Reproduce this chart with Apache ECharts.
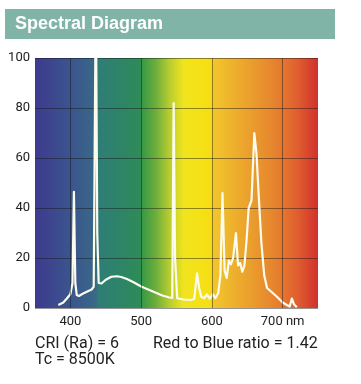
<!DOCTYPE html>
<html>
<head>
<meta charset="utf-8">
<script src="https://cdn.jsdelivr.net/npm/echarts@6/dist/echarts.min.js"></script>
<style>
html,body{margin:0;padding:0;background:#fff;}
#chart{width:361px;height:384px;}
</style>
</head>
<body>
<div id="chart"></div>
<script>
var wavelengths = [383, 390, 395, 400, 403, 405, 407, 409, 412, 418, 424, 430, 433, 436, 438, 440, 444, 450, 458, 466, 472, 480, 490, 500, 510, 520, 530, 540, 544, 546, 548, 551, 560, 570, 575, 579, 582, 585, 589, 593, 597, 601, 605, 609, 612, 615, 618, 621, 624, 627, 630, 634, 637, 640, 643, 646, 649, 652, 656, 660, 663, 666, 670, 674, 678, 684, 692, 700, 706, 710, 713, 716, 720];
var intensity = [1.2, 2.2, 3.8, 5.5, 10, 46.5, 10, 5.2, 4.8, 5.8, 6.6, 7.4, 8.5, 130, 30, 10, 9.8, 11.3, 12.5, 12.7, 12.4, 11.6, 10.2, 8.6, 7.4, 6.2, 5.0, 4.2, 4.0, 82, 20, 3.9, 3.4, 3.2, 3.6, 13.9, 8, 4.5, 3.9, 5.4, 3.8, 5.5, 4.0, 6.0, 13, 46, 15, 12, 19, 17.5, 20, 30, 17, 18, 14.5, 17, 27, 40, 43, 70, 62, 46, 26, 13, 8, 6.5, 4.5, 2.2, 1.2, 0.6, 3.8, 1.5, 0.3];
var xTicks = [400, 500, 600, 700];
var yTicks = [0, 20, 40, 60, 80, 100];
var title = 'Spectral Diagram';
var notes = ['CRI (Ra) = 6', 'Red to Blue ratio = 1.42', 'Tc = 8500K'];

var xMin = 350, xMax = 750;
var bandNm = [350, 380, 420, 436, 440, 470, 499, 502, 520, 540, 560, 590, 599, 602, 650, 690, 720, 750];
var bandColors = ['#3d3a8f', '#3c4a8e', '#3a5f8b', '#386a86', '#2f7d76', '#2d8468', '#2e8c56', '#3a9a46', '#6aad3c', '#b8cc30', '#f0e41e', '#f6e014', '#f6dc16', '#f2c62c', '#eba22c', '#e6822e', '#e0602f', '#d1302c'];

var stops = bandNm.map(function (nm, i) {
  return { offset: (nm - xMin) / (xMax - xMin), color: bandColors[i] };
});

var data = wavelengths.map(function (w, i) { return [w, intensity[i]]; });

var chart = echarts.init(document.getElementById('chart'));
chart.setOption({
  animation: false,
  grid: {
    left: 35, right: 43, top: 58, bottom: 76,
    show: true,
    borderWidth: 0,
    backgroundColor: { type: 'linear', x: 0, y: 0, x2: 1, y2: 0, colorStops: stops }
  },
  graphic: [
    { type: 'rect', shape: { x: 5, y: 9, width: 330, height: 30 }, style: { fill: '#7fb4a6' }, silent: true },
    { type: 'text', x: 15, y: 24, style: { text: title, fill: '#ffffff', font: 'bold 18px "Liberation Sans", Arial, sans-serif', verticalAlign: 'middle' }, silent: true },
    { type: 'text', x: 35, y: 344, style: { text: notes[0], fill: '#222', font: '16px Roboto, sans-serif', verticalAlign: 'middle' }, silent: true },
    { type: 'text', x: 153, y: 344, style: { text: notes[1], fill: '#222', font: '16px Roboto, sans-serif', verticalAlign: 'middle' }, silent: true },
    { type: 'text', x: 35, y: 360, style: { text: notes[2], fill: '#222', font: '16px Roboto, sans-serif', verticalAlign: 'middle' }, silent: true }
  ],
  xAxis: {
    type: 'value', min: xMin, max: xMax, interval: 50,
    axisLine: { show: false }, axisTick: { show: false },
    splitLine: { show: false },
    axisLabel: {
      color: '#222', fontFamily: 'Roboto, sans-serif', fontSize: 13, margin: 7,
      showMinLabel: false, showMaxLabel: false,
      formatter: function (v) {
        if (xTicks.indexOf(v) < 0) return '';
        return v === 700 ? '700 nm' : String(v);
      }
    }
  },
  yAxis: {
    type: 'value', min: 0, max: 100, interval: 20,
    axisLine: { show: false }, axisTick: { show: false },
    splitLine: { show: true, lineStyle: { color: 'rgba(20,20,20,0.45)', width: 1 } },
    axisLabel: { color: '#222', fontFamily: 'Roboto, sans-serif', fontSize: 13, margin: 5 }
  },
  series: [{
    type: 'line',
    data: data,
    showSymbol: false,
    clip: true,
    lineStyle: { color: '#fbfbee', width: 2.2, join: 'round' },
    markLine: {
      silent: true, symbol: 'none', label: { show: false },
      lineStyle: { color: 'rgba(20,20,20,0.45)', width: 1, type: 'solid' },
      data: xTicks.map(function (t) { return { xAxis: t }; })
    },
    z: 3
  }]
});
</script>
</body>
</html>
